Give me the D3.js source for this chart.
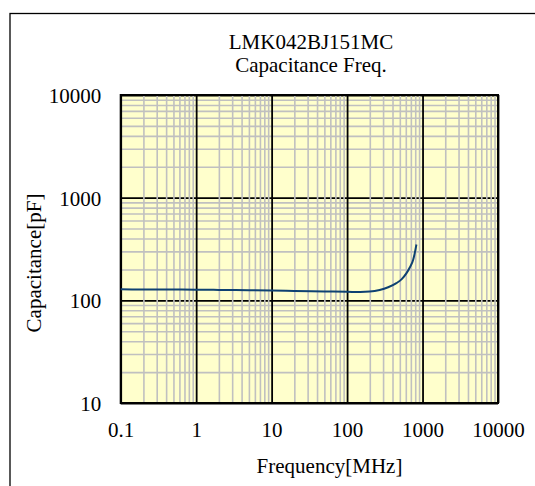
<!DOCTYPE html>
<html>
<head>
<meta charset="utf-8">
<script src="https://cdn.jsdelivr.net/npm/d3@7"></script>
<style>
  html, body { margin: 0; padding: 0; background: #fff; }
  svg { display: block; }
  text { font-family: "Liberation Serif", "Times New Roman", serif; fill: #000; }
</style>
</head>
<body>
<svg id="chart" width="535" height="486"></svg>
<script>
// ---- data ----
const titleLines = ["LMK042BJ151MC", "Capacitance Freq."];
const xLabel = "Frequency[MHz]";
const yLabel = "Capacitance[pF]";
const xTickValues = [0.1, 1, 10, 100, 1000, 10000];
const xTickLabels = ["0.1", "1", "10", "100", "1000", "10000"];
const yTickValues = [10, 100, 1000, 10000];
const yTickLabels = ["10", "100", "1000", "10000"];
const freqMHz = [0.1, 0.2, 0.5, 1, 2, 5, 10, 20, 50, 100, 150, 200, 270, 350, 450, 530, 610, 680, 750, 790, 830];
const capPF   = [128, 127.7, 127.3, 127, 126.4, 125.5, 124.7, 123.6, 122.2, 121, 120.7, 121.6, 126, 134, 147, 161, 183, 210, 247, 290, 350];

// ---- layout ----
const svg = d3.select("#chart");
const L = 120.7, R = 498, T = 95, B = 403;
const x = d3.scaleLog().domain([0.1, 10000]).range([L, R]);
const y = d3.scaleLog().domain([10, 10000]).range([B, T]);

// outer frame (extends beyond the visible area)
svg.append("rect").attr("x", 10).attr("y", 13.5).attr("width", 700).attr("height", 700)
  .attr("fill", "none").attr("stroke", "#000").attr("stroke-width", 1.3);

// plot background
svg.append("rect").attr("x", L).attr("y", T).attr("width", R - L).attr("height", B - T)
  .attr("fill", "#ffffcc");

const majorX = new Set(xTickValues.map(v => Math.round(Math.log10(v) * 1000)));
const majorY = new Set(yTickValues.map(v => Math.round(Math.log10(v) * 1000)));
const isMajor = (set, v) => set.has(Math.round(Math.log10(v) * 1000));
const allX = x.ticks();
const allY = y.ticks();
const minorX = allX.filter(v => !isMajor(majorX, v));
const minorY = allY.filter(v => !isMajor(majorY, v));

const grid = svg.append("g");
// horizontal minor
grid.append("g").attr("transform", `translate(${L},0)`)
  .call(d3.axisLeft(y).tickValues(minorY).tickSize(-(R - L)).tickFormat(""))
  .call(g => g.select(".domain").remove())
  .call(g => g.selectAll("line").attr("stroke", "#c0c0c0").attr("stroke-width", 1.6));
// horizontal major
grid.append("g").attr("transform", `translate(${L},0)`)
  .call(d3.axisLeft(y).tickValues(yTickValues).tickSize(-(R - L)).tickFormat(""))
  .call(g => g.select(".domain").remove())
  .call(g => g.selectAll("line").attr("stroke", "#000").attr("stroke-width", 1.8));
// vertical minor
grid.append("g").attr("transform", `translate(0,${B})`)
  .call(d3.axisBottom(x).tickValues(minorX).tickSize(-(B - T)).tickFormat(""))
  .call(g => g.select(".domain").remove())
  .call(g => g.selectAll("line").attr("stroke", "#c0c0c0").attr("stroke-width", 1.6));
// vertical major
grid.append("g").attr("transform", `translate(0,${B})`)
  .call(d3.axisBottom(x).tickValues(xTickValues).tickSize(-(B - T)).tickFormat(""))
  .call(g => g.select(".domain").remove())
  .call(g => g.selectAll("line").attr("stroke", "#000").attr("stroke-width", 1.8));

// plot border
svg.append("rect").attr("x", L).attr("y", T).attr("width", R - L).attr("height", B - T)
  .attr("fill", "none").attr("stroke", "#000").attr("stroke-width", 2);

// curve
const line = d3.line().x((d, i) => x(freqMHz[i])).y((d, i) => y(capPF[i])).curve(d3.curveMonotoneX);
svg.append("path").datum(capPF).attr("d", line)
  .attr("fill", "none").attr("stroke", "#0e4172").attr("stroke-width", 2);

// tick labels
const fs = 21;
svg.append("g").attr("transform", `translate(0,${B})`)
  .call(d3.axisBottom(x).tickValues(xTickValues).tickSize(0).tickPadding(0)
    .tickFormat((d, i) => xTickLabels[i]))
  .call(g => g.select(".domain").remove())
  .call(g => g.selectAll("text").attr("font-size", fs).attr("dy", null).attr("y", 34.3)
    .style("font-family", "Liberation Serif").attr("fill", "#000"));

svg.append("g").attr("transform", `translate(${L},0)`)
  .call(d3.axisLeft(y).tickValues(yTickValues).tickSize(0).tickPadding(0)
    .tickFormat((d, i) => yTickLabels[i]))
  .call(g => g.select(".domain").remove())
  .call(g => g.selectAll("text").attr("font-size", fs).attr("dy", null).attr("x", -19.5).attr("y", 7.5)
    .style("font-family", "Liberation Serif").attr("fill", "#000"));

// titles
svg.append("text").attr("x", 311).attr("y", 49).attr("text-anchor", "middle")
  .attr("font-size", fs).text(titleLines[0]);
svg.append("text").attr("x", 311).attr("y", 71.5).attr("text-anchor", "middle")
  .attr("font-size", fs).text(titleLines[1]);

svg.append("text").attr("x", 329.5).attr("y", 473).attr("text-anchor", "middle")
  .attr("font-size", fs).text(xLabel);

svg.append("text").attr("transform", "translate(41,263) rotate(-90)").attr("text-anchor", "middle")
  .attr("font-size", fs).text(yLabel);
</script>
</body>
</html>
